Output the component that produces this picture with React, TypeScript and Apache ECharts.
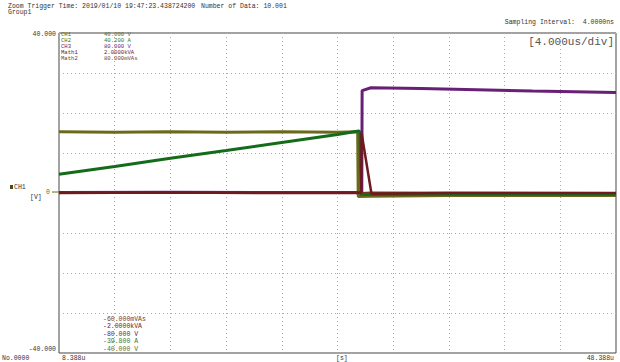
import React, { useEffect, useRef } from "react";
import * as echarts from "echarts";

// sample index (0..10000) vs. division value (-40..40)
const ch1Data: number[][] = [[0, 15.3], [1000, 15.2], [2000, 15.3], [3000, 15.2], [4000, 15.3], [5000, 15.2], [5362, 15.3], [5372, -0.9], [5600, -0.8], [7000, -0.6], [10000, -0.6]];
const ch2Data: number[][] = [[0, 4.7], [1000, 6.6], [2000, 8.7], [3000, 10.6], [4000, 12.6], [5000, 14.6], [5380, 15.5], [5405, 15.2], [5420, -0.4], [7000, -0.3], [10000, -0.3]];
const ch3Data: number[][] = [[0, 0.1], [2000, 0.2], [4000, 0.1], [5436, 0.1], [5442, 25.6], [5600, 26.3], [6500, 26.1], [7500, 25.8], [8500, 25.5], [10000, 25.1]];
const math1Data: number[][] = [[0, 0], [2000, 0.1], [4000, 0], [5425, 0], [5432, 15.0], [5610, -0.2], [7000, 0], [10000, 0]];
const math2Data: number[][] = [[0, 0], [5430, 0], [5600, 0.1], [10000, 0]];

const legendNames = ["CH1", "CH2", "CH3", "Math1", "Math2"];
const legendMax = ["40.000 V", "40.200 A", "80.000 V", "2.0000kVA", "80.000mVAs"];
const legendMin = ["-60.000mVAs", "-2.0000kVA", "-80.000 V", "-39.800 A", "-40.000 V"];
const yTickLabels = ["40.000", "0", "-40.000"];
const xEdgeLabels = ["8.388u", "48.388u"];

const C_CH1 = "#6b6a1c";
const C_CH2 = "#146b1a";
const C_CH3 = "#672075";
const C_M1 = "#6e1a1e";
const C_M2 = "#7a3a1a";
const legendColors = [C_CH1, "#2f7a2f", C_CH3, C_M1, C_M2];
const minColors = [C_M2, C_M1, C_CH3, "#2f7a2f", C_CH1];

const FONT = "6.5px 'Liberation Mono', monospace";
const LFONT = "5.6px 'Liberation Mono', monospace";

export default function App() {
  const ref = useRef<HTMLDivElement>(null);
  useEffect(() => {
    if (!ref.current) return;
    const chart = echarts.init(ref.current, null, { renderer: "svg" });
    const L = 59, T = 33, R = 616, B = 353;
    const graphics: any[] = [];
    const txt = (text: string, x: number, y: number, fill = "#333", align = "left", font = FONT) =>
      graphics.push({ type: "text", x, y, z: 100, style: { text, fill, font, textAlign: align, textVerticalAlign: "middle" } });

    txt("Zoom Trigger Time: 2019/01/10 19:47:23.438724200", 8, 6);
    txt("Number of Data: 10.001", 201, 6);
    txt("Group1", 8, 12);
    txt("Sampling Interval:  4.0000ns", 614, 22, "#333", "right");
    txt("[4.000us/div]", 614, 42, "#555", "right", "11px 'Liberation Mono', monospace");

    legendNames.forEach((n, i) => {
      txt(n, 61, 34.5 + i * 6, legendColors[i], "left", LFONT);
      txt(legendMax[i], 104, 34.5 + i * 6, legendColors[i], "left", LFONT);
    });
    legendMin.forEach((n, i) => {
      txt(n, 103, 319 + i * 7.6, minColors[i]);
    });

    txt(yTickLabels[0], 56, 34, "#333", "right");
    txt(yTickLabels[1], 50, 192, C_CH1, "right");
    txt(yTickLabels[2], 56, 349, "#333", "right");
    graphics.push({ type: "line", shape: { x1: 52, y1: 192, x2: L, y2: 192 }, style: { stroke: C_CH1, lineWidth: 1 } });
    graphics.push({ type: "rect", shape: { x: 10, y: 185, width: 3, height: 4 }, style: { fill: "#4a4a1a" } });
    txt("CH1", 14, 187);
    txt("[V]", 30, 197);

    txt("No.0000", 2, 358);
    txt(xEdgeLabels[0], 62, 358);
    txt("[s]", 336, 358);
    txt(xEdgeLabels[1], 614, 358, "#333", "right");

    const line = (name: string, data: number[][], color: string, w = 3) => ({
      name, type: "line", data, showSymbol: false, symbol: "none",
      lineStyle: { color, width: w }, itemStyle: { color }, silent: true,
    });

    chart.setOption({
      animation: false,
      backgroundColor: "#fff",
      grid: { left: L, top: T, right: 620 - R, bottom: 362 - B, show: true, borderColor: "#444", borderWidth: 1 },
      xAxis: {
        type: "value", min: 0, max: 10000, interval: 1000,
        axisLine: { show: false }, axisTick: { show: false }, axisLabel: { show: false },
        splitLine: { show: true, lineStyle: { color: "#aaa", type: [1, 3], width: 1 } },
      },
      yAxis: {
        type: "value", min: -40, max: 40, interval: 10,
        axisLine: { show: false }, axisTick: { show: false }, axisLabel: { show: false },
        splitLine: { show: true, lineStyle: { color: "#aaa", type: [1, 3], width: 1 } },
      },
      series: [
        line("CH1", ch1Data, C_CH1),
        line("CH2", ch2Data, C_CH2),
        line("CH3", ch3Data, C_CH3),
        line("Math2", math2Data, C_M2, 2),
        line("Math1", math1Data, C_M1, 2.5),
      ],
      graphic: graphics,
    });
    return () => chart.dispose();
  }, []);
  return <div ref={ref} style={{ width: 620, height: 362, position: "absolute", left: 0, top: 0 }} />;
}
